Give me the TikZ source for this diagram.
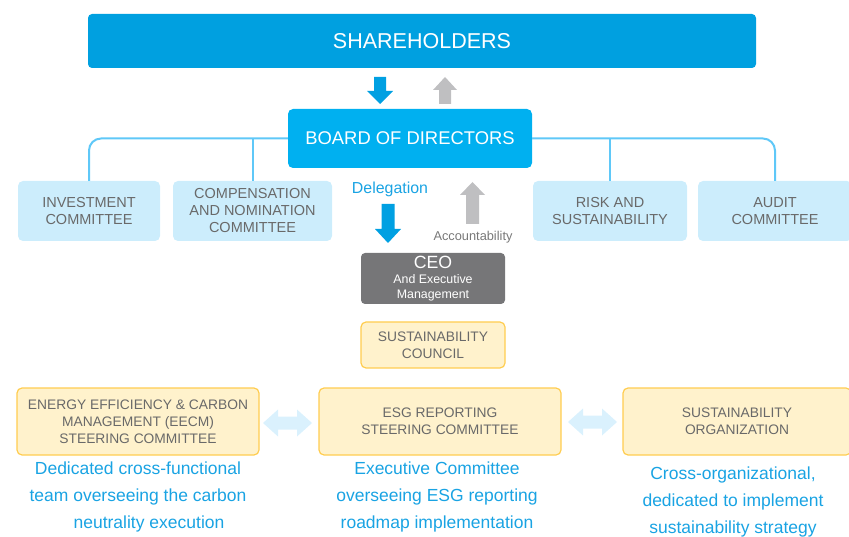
\documentclass[tikz,border=0pt]{standalone}
\usepackage{fontspec}
\setmainfont{Liberation Sans}
\definecolor{shblue}{RGB}{0,160,224}
\definecolor{bdblue}{RGB}{0,176,240}
\definecolor{lineblue}{RGB}{95,200,248}
\definecolor{comfill}{RGB}{204,237,252}
\definecolor{comtext}{RGB}{105,105,105}
\definecolor{arrowblue}{RGB}{0,160,226}
\definecolor{arrowgray}{RGB}{191,191,193}
\definecolor{ceogray}{RGB}{118,118,120}
\definecolor{yelfill}{RGB}{255,242,204}
\definecolor{yelborder}{RGB}{255,205,80}
\definecolor{dblfill}{RGB}{218,241,253}
\definecolor{desctext}{RGB}{25,163,227}
\definecolor{acctext}{RGB}{120,120,120}
\begin{document}
\begin{tikzpicture}[x=1pt,y=-1pt,
  topbox/.style={rectangle, rounded corners=4pt, inner sep=0pt, align=center, text=white},
  combox/.style={rectangle, rounded corners=5pt, inner sep=0pt, align=center, fill=comfill, text=comtext,
    minimum height=60pt, font=\fontsize{14.5}{17}\selectfont},
  yelbox/.style={rectangle, rounded corners=5pt, inner sep=0pt, align=center, fill=yelfill, draw=yelborder,
    line width=1.2pt, text=comtext, font=\fontsize{13.8}{17}\selectfont},
  desc/.style={align=center, text=desctext, inner sep=0pt, font=\fontsize{17.5}{27}\selectfont},
  link/.style={draw=lineblue, line width=2pt, rounded corners=12pt}]
\useasboundingbox (0,0) rectangle (849,537);

% top boxes
\node[topbox, fill=shblue, minimum width=668pt, minimum height=54pt,
  font=\fontsize{21.5}{24}\selectfont] (sh) at (422,41) {SHAREHOLDERS};
\node[topbox, fill=bdblue, rounded corners=5pt, minimum width=244pt, minimum height=59pt,
  font=\fontsize{18.4}{22}\selectfont] (bd) at (410,138.5) {BOARD OF DIRECTORS};

% committees
\node[combox, minimum width=142pt] (inv) at (89,211) {INVESTMENT\\COMMITTEE};
\node[combox, minimum width=159pt] (comp) at (252.5,211) {COMPENSATION\\AND NOMINATION\\COMMITTEE};
\node[combox, minimum width=154pt] (risk) at (610,211) {RISK AND\\SUSTAINABILITY};
\node[combox, minimum width=154pt] (aud) at (775,211) {AUDIT\\COMMITTEE};

% connectors
\draw[link] (bd.west) -| (inv.north);
\draw[link] (comp.north) -- (comp.north |- bd.west);
\draw[link] (bd.east) -| (aud.north);
\draw[link] (risk.north) -- (risk.north |- bd.east);

% block arrows between shareholders and board
\fill[arrowblue] (374,77) -- (386,77) -- (386,91) -- (393,91) -- (380,104) -- (367,91) -- (374,91) -- cycle;
\fill[arrowgray] (445,77) -- (457,90) -- (451,90) -- (451,104) -- (439,104) -- (439,90) -- (433,90) -- cycle;

% delegation / accountability
\node[text=desctext, font=\fontsize{15.9}{18}\selectfont, inner sep=0pt] (dele) at (390,189) {Delegation};
\node[text=acctext, font=\fontsize{12.8}{15}\selectfont, inner sep=0pt] (acc) at (473,237) {Accountability};
\fill[arrowblue] (381.5,204) -- (394.5,204) -- (394.5,229) -- (401,229) -- (388,243) -- (375,229) -- (381.5,229) -- cycle;
\fill[arrowgray] (472.5,182) -- (485,195) -- (479,195) -- (479,224) -- (466,224) -- (466,195) -- (460,195) -- cycle;

% CEO
\node[topbox, fill=ceogray, minimum width=144pt, minimum height=51pt,
  font=\fontsize{12.4}{15}\selectfont] (ceo) at (433,278.5)
  {{\fontsize{17.7}{15}\selectfont CEO}\\And Executive\\Management};

% council
\node[yelbox, minimum width=144pt, minimum height=46pt] (coun) at (433,345) {SUSTAINABILITY\\COUNCIL};

% bottom row
\node[yelbox, minimum width=242pt, minimum height=67pt] (eecm) at (138,421.5)
  {ENERGY EFFICIENCY \& CARBON\\MANAGEMENT (EECM)\\STEERING COMMITTEE};
\node[yelbox, minimum width=242pt, minimum height=67pt] (esg) at (440,421.5)
  {ESG REPORTING\\STEERING COMMITTEE};
\node[yelbox, minimum width=228pt, minimum height=67pt] (org) at (737,421.5)
  {SUSTAINABILITY\\ORGANIZATION};

% double arrows
\fill[dblfill] (263,423) -- (278,409.5) -- (278,416.5) -- (297,416.5) -- (297,409.5) -- (312,423)
  -- (297,436.5) -- (297,429.5) -- (278,429.5) -- (278,436.5) -- cycle;
\fill[dblfill] (568,422) -- (583,408.5) -- (583,415.5) -- (602,415.5) -- (602,408.5) -- (617,422)
  -- (602,435.5) -- (602,428.5) -- (583,428.5) -- (583,435.5) -- cycle;

% descriptions
\node[desc] (d1) at (138,497) {Dedicated cross-functional\\team overseeing the carbon\\\hspace*{22pt}neutrality execution};
\node[desc] (d2) at (437,497) {Executive Committee\\overseeing ESG reporting\\roadmap implementation};
\node[desc] (d3) at (733,502) {Cross-organizational,\\dedicated to implement\\sustainability strategy};
\end{tikzpicture}
\end{document}
